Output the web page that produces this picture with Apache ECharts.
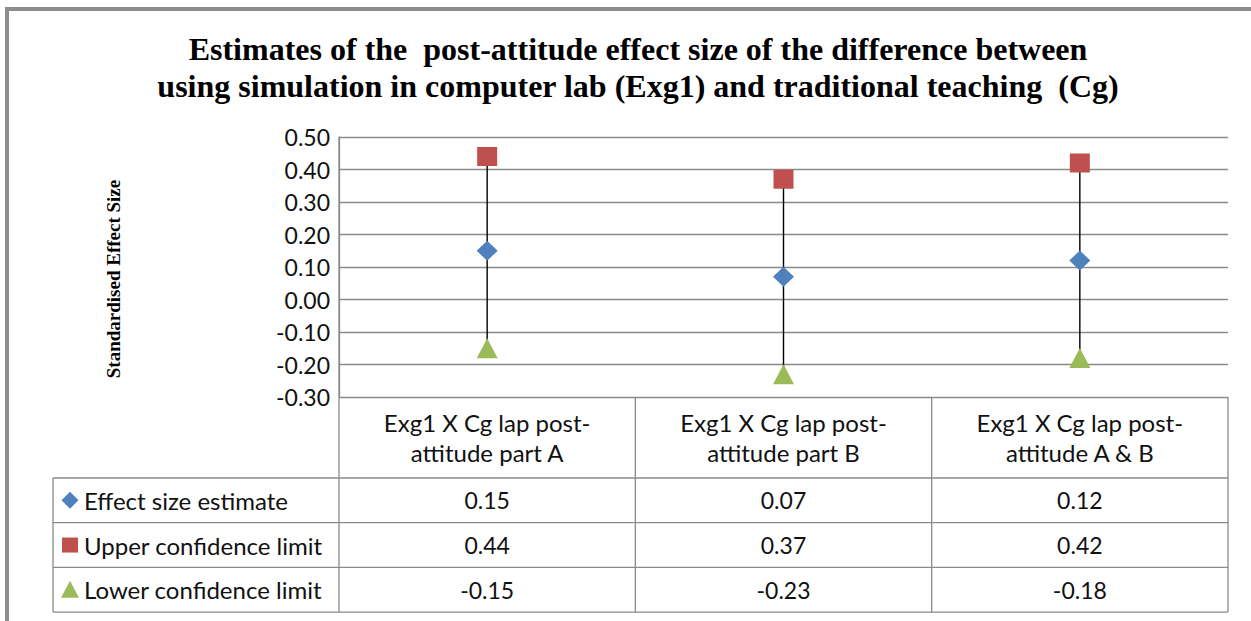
<!DOCTYPE html>
<html><head><meta charset="utf-8">
<script src="https://cdn.jsdelivr.net/npm/echarts@6/dist/echarts.min.js"></script>
<style>html,body{margin:0;padding:0;background:#fff}#c{width:1251px;height:621px}</style>
</head><body><div id="c"></div>
<script>
const titleLines = ['Estimates of the  post-attitude effect size of the difference between', 'using simulation in computer lab (Exg1) and traditional teaching  (Cg)'];
const yAxisName = 'Standardised Effect Size';
const categories = ['Exg1 X Cg lap post-\nattitude part A', 'Exg1 X Cg lap post-\nattitude part B', 'Exg1 X Cg lap post-\nattitude A & B'];
const seriesNames = ['Effect size estimate', 'Upper confidence limit', 'Lower confidence limit'];
const effectSize = [0.15, 0.07, 0.12];
const upperLimit = [0.44, 0.37, 0.42];
const lowerLimit = [-0.15, -0.23, -0.18];
const yMin = -0.3, yMax = 0.5, yStep = 0.1;

const colors = ['#4F81BD', '#C0504D', '#9BBB59'];
const sans = 'Lato';
const serif = 'Liberation Serif';
const gridColor = '#8a8a8a';
const textColor = '#111';

const chart = echarts.init(document.getElementById('c'), null, {renderer: 'svg'});
const option = {
  backgroundColor: '#fff',
  animation: false,
  title: {
    text: titleLines.join('\n'), left: 633, top: 25, textAlign: 'center',
    textStyle: {fontFamily: serif, fontWeight: 'bold', fontSize: 32, lineHeight: 37, color: '#000'}
  },
  grid: {left: 339, right: 23, top: 137, bottom: 224},
  xAxis: {
    type: 'category', data: categories, boundaryGap: true,
    axisLine: {show: false}, axisTick: {show: false},
    axisLabel: {fontFamily: sans, fontSize: 24, lineHeight: 30, color: textColor, margin: 10, interval: 0}
  },
  yAxis: {
    type: 'value', min: yMin, max: yMax, interval: yStep,
    axisLine: {show: true, lineStyle: {color: gridColor, width: 1.3}},
    axisTick: {show: false},
    splitLine: {lineStyle: {color: gridColor, width: 1.3}},
    axisLabel: {fontFamily: sans, fontSize: 23, color: textColor, margin: 9, formatter: v => v.toFixed(2)}
  },
  series: [
    {
      type: 'custom', z: 1,
      data: categories.map((c, i) => [i, upperLimit[i], lowerLimit[i]]),
      encode: {x: 0, y: [1, 2]},
      renderItem: (params, api) => {
        const i = api.value(0);
        const p1 = api.coord([i, api.value(1)]);
        const p2 = api.coord([i, api.value(2)]);
        return {type: 'line', shape: {x1: p1[0], y1: p1[1], x2: p2[0], y2: p2[1]}, style: {stroke: '#000', lineWidth: 1.4}};
      }
    },
    {name: seriesNames[0], type: 'scatter', z: 3, symbol: 'diamond', symbolSize: [21, 20], itemStyle: {color: colors[0], opacity: 1}, data: effectSize},
    {name: seriesNames[1], type: 'scatter', z: 3, symbol: 'rect', symbolSize: [20, 19], itemStyle: {color: colors[1], opacity: 1}, data: upperLimit},
    {name: seriesNames[2], type: 'scatter', z: 3, symbol: 'triangle', symbolSize: [21, 20], itemStyle: {color: colors[2], opacity: 1}, data: lowerLimit}
  ]
};
chart.setOption(option);

// Data table built from the axis positions
const centers = categories.map((c, i) => chart.convertToPixel({xAxisIndex: 0}, i));
const half = (centers[1] - centers[0]) / 2;
const colEdges = [centers[0] - half].concat(centers.map(c => c + half));
const yTop = chart.convertToPixel({yAxisIndex: 0}, yMax);
const yBot = chart.convertToPixel({yAxisIndex: 0}, yMin);
const headerH = 81, rowH = 44.7;
const tableLeft = 53;
const rowTops = [yBot + headerH, yBot + headerH + rowH, yBot + headerH + 2 * rowH];
const tableBottom = yBot + headerH + 3 * rowH;
const lineStyle = {stroke: gridColor, lineWidth: 1.3};
const g = [];
g.push({type: 'rect', shape: {x: 7, y: 9, width: 1400, height: 800}, style: {fill: 'none', stroke: '#8c8c8c', lineWidth: 4}, z: 100});
colEdges.forEach((x, k) => {
  g.push({type: 'line', shape: {x1: x, y1: (k === 0 ? yTop : yBot), x2: x, y2: tableBottom}, style: lineStyle, z: 50});
});
g.push({type: 'line', shape: {x1: tableLeft, y1: rowTops[0], x2: tableLeft, y2: tableBottom}, style: lineStyle, z: 50});
rowTops.concat([tableBottom]).forEach(y => {
  g.push({type: 'line', shape: {x1: tableLeft, y1: y, x2: colEdges[3], y2: y}, style: lineStyle, z: 50});
});
const rows = [effectSize, upperLimit, lowerLimit];
rows.forEach((vals, r) => {
  const cy = rowTops[r] + rowH / 2;
  vals.forEach((v, i) => {
    g.push({type: 'text', x: centers[i], y: cy, style: {text: v.toFixed(2), font: '23px ' + sans, fill: textColor, align: 'center', verticalAlign: 'middle'}, z: 50});
  });
  g.push({type: 'text', x: 84, y: cy, style: {text: seriesNames[r], font: '24px ' + sans, fill: textColor, align: 'left', verticalAlign: 'middle'}, z: 50});
  const sx = 70;
  if (r === 0) g.push({type: 'polygon', shape: {points: [[sx, cy - 8.5], [sx + 8.5, cy], [sx, cy + 8.5], [sx - 8.5, cy]]}, style: {fill: colors[0]}, z: 50});
  if (r === 1) g.push({type: 'rect', shape: {x: sx - 8, y: cy - 7.5, width: 16, height: 15}, style: {fill: colors[1]}, z: 50});
  if (r === 2) g.push({type: 'polygon', shape: {points: [[sx, cy - 9], [sx + 9, cy + 8], [sx - 9, cy + 8]]}, style: {fill: colors[2]}, z: 50});
});
g.push({type: 'text', x: 113, y: 279, rotation: Math.PI / 2, style: {text: yAxisName, font: 'bold 19px ' + serif, fill: '#000', align: 'center', verticalAlign: 'middle'}, z: 50});
chart.setOption({graphic: g});
</script>
</body></html>
